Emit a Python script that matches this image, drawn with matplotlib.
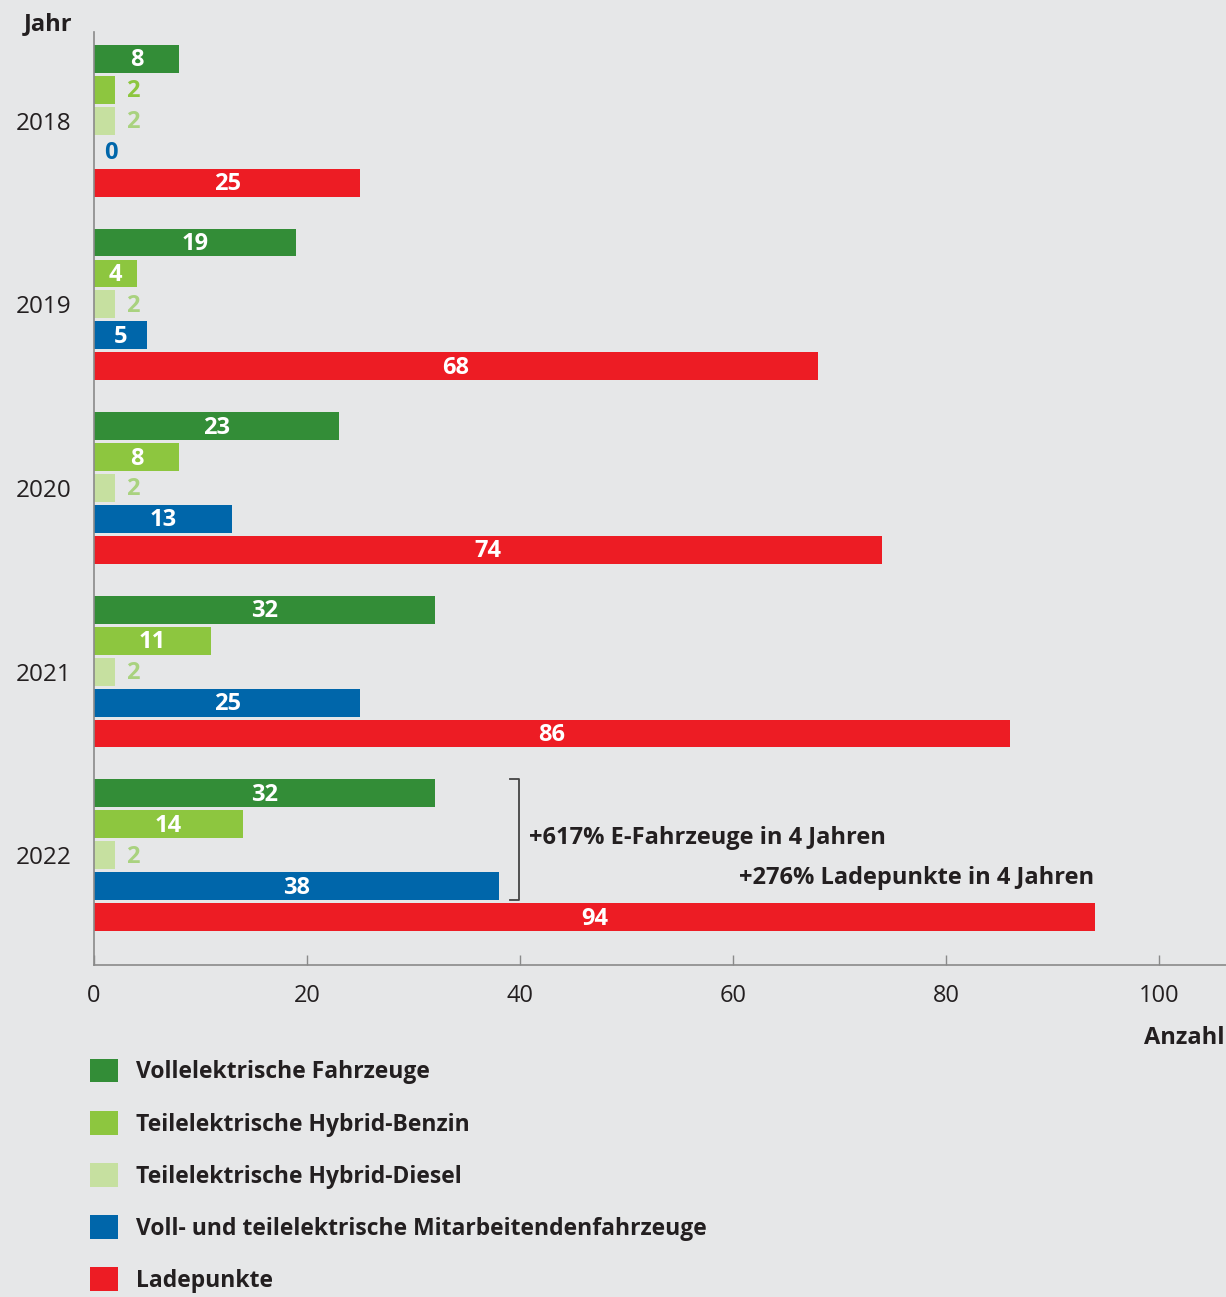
import matplotlib.pyplot as plt
from matplotlib.patches import Patch

plt.rcParams['font.family'] = ['Open Sans', 'DejaVu Sans']

years = ['2018', '2019', '2020', '2021', '2022']
voll = [8, 19, 23, 32, 32]
benzin = [2, 4, 8, 11, 14]
diesel = [2, 2, 2, 2, 2]
mitarbeiter = [0, 5, 13, 25, 38]
ladepunkte = [25, 68, 74, 86, 94]

series_names = ['Vollelektrische Fahrzeuge', 'Teilelektrische Hybrid-Benzin',
                'Teilelektrische Hybrid-Diesel',
                'Voll- und teilelektrische Mitarbeitendenfahrzeuge', 'Ladepunkte']
series = [voll, benzin, diesel, mitarbeiter, ladepunkte]
colors = ['#338d37', '#8dc63f', '#c6e0a0', '#0066aa', '#ed1c24']
outside_colors = ['#338d37', '#8dc63f', '#a9d27f', '#0066aa', '#ed1c24']

bg = '#e6e7e8'
text_col = '#231f20'

fig = plt.figure(figsize=(12.26, 12.97), dpi=100, facecolor=bg)
ax = fig.add_axes([94 / 1226, 1 - 965 / 1297, 1 - 94 / 1226, (965 - 32) / 1297])
ax.set_facecolor(bg)

step = 0.1685
height = 0.152
for j, (vals, col) in enumerate(zip(series, colors)):
    ys = [i + (j - 2) * step for i in range(len(years))]
    ax.barh(ys, vals, height=height, color=col, label=series_names[j])
    for y, v in zip(ys, vals):
        if v >= 4:
            ax.text(v / 2, y + 0.008, str(v), color='white', fontsize=17, fontweight='bold',
                    ha='center', va='center')
        else:
            ax.text(v + 1.6, y + 0.008, str(v), color=outside_colors[j], fontsize=17,
                    fontweight='bold', ha='center', va='center')

ax.set_xlim(0, (1226 - 94) / 10.65)
ax.set_ylim(4 + (965 - 855) / 184, (32 - 121) / 184)

ax.set_yticks(range(len(years)))
ax.set_yticklabels(years, fontsize=17.5, color=text_col)
ax.tick_params(axis='y', length=0, pad=16)
ax.set_xticks([0, 20, 40, 60, 80, 100])
ax.tick_params(axis='x', direction='in', length=7, width=1, color='#8a8a8a',
               labelsize=17, labelcolor=text_col, pad=14)

for s in ['top', 'right']:
    ax.spines[s].set_visible(False)
for s in ['left', 'bottom']:
    ax.spines[s].set_color('#8a8a8a')
    ax.spines[s].set_linewidth(1.2)

# bracket around the 2022 vehicle bars
i = len(years) - 1
y_top = i - 2 * step - height / 2
y_bot = i + step + height / 2
xb = max(mitarbeiter) + 1.9
ax.plot([xb - 0.85, xb, xb, xb - 0.85], [y_top, y_top, y_bot, y_bot],
        color='#444444', lw=1.3, clip_on=False)
ax.text(xb + 0.95, i - 0.092, '+617% E-Fahrzeuge in 4 Jahren', fontsize=17,
        fontweight='bold', color=text_col, ha='left', va='center')
ax.text(ladepunkte[-1] - 0.05, i + 0.125, '+276% Ladepunkte in 4 Jahren', fontsize=17,
        fontweight='bold', color=text_col, ha='right', va='center')

fig.text(48 / 1226, 1 - 24 / 1297, 'Jahr', fontsize=17, fontweight='bold',
         color=text_col, ha='center', va='center')
fig.text(1224 / 1226, 1 - 1038 / 1297, 'Anzahl', fontsize=17, fontweight='bold',
         color=text_col, ha='right', va='center')

handles = [Patch(facecolor=c, edgecolor='none') for c in colors]
fig.legend(handles, series_names, loc='upper left',
           bbox_to_anchor=(90 / 1226, 1 - 1059 / 1297), frameon=False,
           handlelength=1.2, handleheight=1.2, handletextpad=0.8,
           labelspacing=1.16, borderpad=0, borderaxespad=0,
           prop={'size': 16.5, 'weight': 'bold'}, labelcolor=text_col)

fig.savefig('out.png', dpi=100, facecolor=bg)
